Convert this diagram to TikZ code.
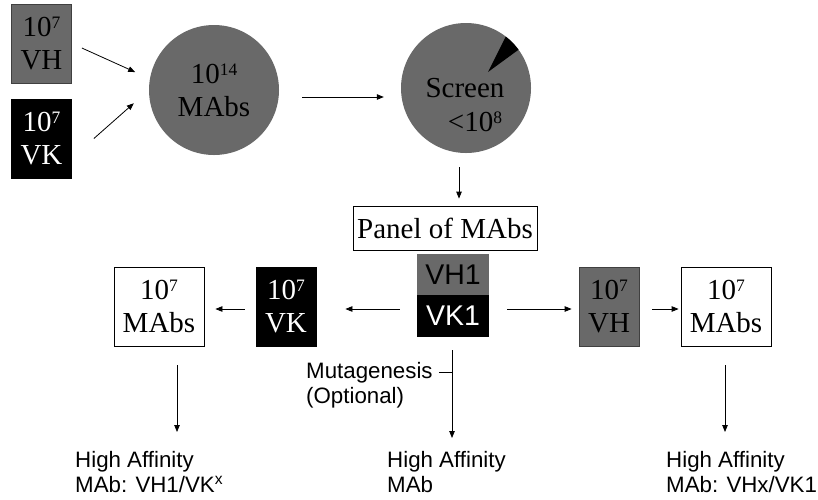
\documentclass[tikz,border=0pt]{standalone}
\usepackage{fontspec}
\setmainfont{Liberation Serif}
\setsansfont{Liberation Sans}
\usetikzlibrary{arrows.meta}
\definecolor{boxgray}{RGB}{105,105,105}
% raised exponent, top-aligned with the digits
\newcommand\upsc[1]{\raisebox{8pt}{\fontsize{17.5}{17.5}\selectfont #1}}
\begin{document}
\begin{tikzpicture}[x=1pt,y=-1pt,
  serif/.style={font=\fontsize{29}{33}\selectfont, align=center},
  sbox/.style={rectangle, draw=black, line width=0.8pt, minimum width=60pt,
    minimum height=79pt, inner sep=0pt, serif},
  wbox/.style={sbox, fill=white, minimum width=90pt},
  gbox/.style={sbox, fill=boxgray, draw=black!75},
  kbox/.style={sbox, fill=black, text=white},
  disc/.style={circle, fill=boxgray, minimum size=130pt, inner sep=0pt, serif},
  tag/.style={rectangle, inner sep=0pt, minimum width=72pt,
    font=\sffamily\fontsize{28.5}{28.5}\selectfont},
  arr/.style={line width=0.8pt, -{Triangle[length=7pt,width=5.5pt]}},
  stext/.style={font=\sffamily\fontsize{22.3}{25}\selectfont, align=left, inner sep=0pt},
]
\fill[white] (0,0) rectangle (818,499);
\useasboundingbox (0,0) rectangle (818,499);

% library sources and the combined pool
\node[gbox] (vh) at (41.5,43.5) {10\upsc{7}\\VH};
\node[kbox] (vk) at (41.5,138.5) {10\upsc{7}\\VK};
\node[disc] (c1) at (214,90) {10\upsc{14}\\MAbs};

% screening disc with its black wedge
\node[disc] (c2) at (466,88) {};
\begin{scope}
  \clip (466,88) circle[radius=65pt];
  \fill[black] (488,72) -- (513,22) -- (540,34) -- cycle;
\end{scope}
\node[serif, anchor=base] (scr) at (465,97) {Screen};
\node[serif, anchor=base] (lim) at (475,131) {<10\upsc{8}};

% selected panel
\node[rectangle, draw=black, line width=0.8pt, minimum width=184pt,
  minimum height=44pt, inner sep=0pt, serif] (panel) at (445,228) {Panel of MAbs};
\node[tag, fill=boxgray, minimum height=41pt] (vh1) at (453,274.5) {VH1};
\node[tag, fill=black, text=white, minimum height=42pt] (vk1) at (453,316) {VK1};
\coordinate (vdn) at ([xshift=-1pt]vk1.south);

% chain shuffling branches
\node[kbox] (vkb) at (286,306.5) {10\upsc{7}\\VK};
\node[wbox] (mL) at (159,306.5) {10\upsc{7}\\MAbs};
\node[gbox] (vhb) at (609,306.5) {10\upsc{7}\\VH};
\node[wbox] (mR) at (726,306.5) {10\upsc{7}\\MAbs};

% outcomes
\node[stext, anchor=north west] (hL) at (75,451) {High Affinity\\MAb: VH1/VK\textsuperscript{x}};
\node[stext, anchor=north west] (hC) at (387,451) {High Affinity\\MAb};
\node[stext, anchor=north west] (hR) at (666,451) {High Affinity\\MAb: VHx/VK1};
\node[stext, anchor=base west] (mut) at (306,378) {Mutagenesis};
\node[stext, anchor=base west] (opt) at (306,403) {(Optional)};

% connectors
\draw[arr, shorten <=11pt, shorten >=16pt] (vh.east) -- (c1.170);
\draw[arr, shorten >=20pt] ([xshift=22pt]vk.east) -- (c1.west);
\draw[arr, shorten <=23pt, shorten >=17pt] ([yshift=-7pt]c1.east) -- ([yshift=-7pt]c1.east -| c2.west);
\draw[arr, shorten <=14pt, shorten >=7pt] ([xshift=-7pt]c2.south) -- ([xshift=-7pt]c2.south |- panel.north);

\draw[arr, shorten <=17pt, shorten >=29pt] ([yshift=-2.5pt]vkb.east -| vk1.west) -- ([yshift=-2.5pt]vkb.east);
\draw[arr, shorten <=11pt, shorten >=11pt] ([yshift=-2.5pt]vkb.west) -- ([yshift=-2.5pt]vkb.west -| mL.east);
\draw[arr, shorten <=18pt, shorten >=7pt] ([yshift=-2.5pt]vhb.west -| vk1.east) -- ([yshift=-2.5pt]vhb.west);
\draw[arr, shorten <=13pt, shorten >=2pt] ([yshift=-2.5pt]vhb.east) -- ([yshift=-2.5pt]vhb.east -| mR.west);

\draw[arr, shorten <=19pt, shorten >=19pt] ([xshift=18pt]mL.south) -- ([xshift=18pt]mL.south |- hL.north);
\draw[arr, shorten <=13pt, shorten >=13pt] (vdn) -- (vdn |- hC.north);
\draw[line width=0.8pt, shorten <=6pt] (mut.east) -- (mut.east -| vdn);
\draw[arr, shorten <=19pt, shorten >=19pt] ([xshift=-1pt]mR.south) -- ([xshift=-1pt]mR.south |- hR.north);
\end{tikzpicture}
\end{document}
